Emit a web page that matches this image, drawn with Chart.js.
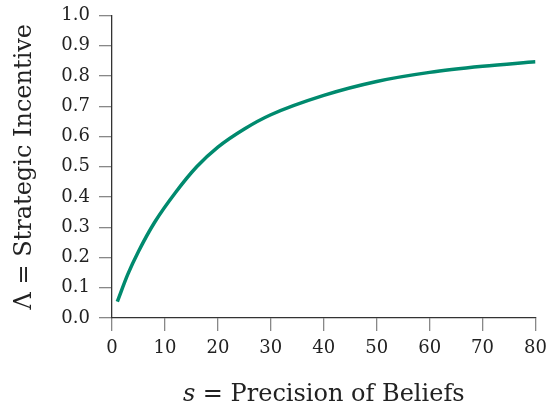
<!DOCTYPE html>
<html>
<head>
<meta charset="utf-8">
<script src="https://cdn.jsdelivr.net/npm/chart.js@4.4.0/dist/chart.umd.min.js"></script>
<style>
  html, body { margin: 0; padding: 0; background: #fff; }
  #wrap { width: 548px; height: 406px; }
</style>
</head>
<body>
<div id="wrap"><canvas id="myChart" width="548" height="406"></canvas></div>
<script>
// values
const precision = [1, 3, 5, 8, 12, 16, 20, 25, 30, 40, 50, 60, 70, 80];
const incentive = [0.054, 0.145, 0.22, 0.315, 0.415, 0.50, 0.565, 0.625, 0.672, 0.736, 0.782, 0.812, 0.832, 0.847];
const xTicks = [0, 10, 20, 30, 40, 50, 60, 70, 80];
const yTicks = [0, 0.1, 0.2, 0.3, 0.4, 0.5, 0.6, 0.7, 0.8, 0.9, 1.0];

const serif = "'DejaVu Serif', serif";

// ---------------- axis titles with italic symbol ----------------
const axisTitles = {
    id: 'axisTitles',
    afterDraw(chart) {
        const ctx = chart.ctx;
        const area = chart.chartArea;
        ctx.save();
        ctx.fillStyle = '#222';
        ctx.textBaseline = 'alphabetic';

        // x title
        const partsX = [["italic 24px " + serif, "s"], ["24px " + serif, " = Precision of Beliefs"]];
        drawParts(ctx, partsX, (area.left + area.right) / 2, 401);

        // y title, rotated
        ctx.translate(31, (area.top + area.bottom) / 2);
        ctx.rotate(-Math.PI / 2);
        const partsY = [["24px " + serif, "\u039B = Strategic Incentive"]];
        drawParts(ctx, partsY, 0, 0);
        ctx.restore();
    }
};

function drawParts(ctx, parts, cx, y) {
    let total = 0;
    parts.forEach(p => { ctx.font = p[0]; total += ctx.measureText(p[1]).width; });
    let x = cx - total / 2;
    parts.forEach(p => {
        ctx.font = p[0];
        ctx.textAlign = 'left';
        ctx.fillText(p[1], x, y);
        x += ctx.measureText(p[1]).width;
    });
}

const ctx = document.getElementById('myChart');
new Chart(ctx, {
    type: 'line',
    data: {
        datasets: [{
            data: precision.map((s, i) => ({ x: s, y: incentive[i] })),
            borderColor: '#008a6e',
            borderWidth: 3.5,
            pointRadius: 0,
            cubicInterpolationMode: 'monotone',
            fill: false
        }]
    },
    options: {
        responsive: false,
        animation: false,
        layout: { padding: 0 },
        plugins: { legend: { display: false }, tooltip: { enabled: false } },
        scales: {
            x: {
                type: 'linear',
                min: 0,
                max: 80,
                afterBuildTicks: (scale) => { scale.ticks = xTicks.map(v => ({ value: v })); },
                afterFit: (scale) => { scale.height = 88; scale.paddingRight = 12.5; scale.paddingLeft = 0; },
                grid: { drawOnChartArea: false, drawTicks: true, tickLength: 13, color: '#888', lineWidth: 1.3 },
                border: { display: true, color: '#333', width: 1.3 },
                ticks: { color: '#222', font: { family: serif, size: 18 }, padding: 7, maxRotation: 0 }
            },
            y: {
                min: 0,
                max: 1,
                afterBuildTicks: (scale) => { scale.ticks = yTicks.map(v => ({ value: v })); },
                afterFit: (scale) => { scale.width = 112; scale.paddingTop = 15.5; scale.paddingBottom = 0; },
                grid: { drawOnChartArea: false, drawTicks: true, tickLength: 13, color: '#888', lineWidth: 1.3 },
                border: { display: true, color: '#333', width: 1.3 },
                ticks: { color: '#222', font: { family: serif, size: 18 }, padding: 9, callback: (v) => v.toFixed(1) }
            }
        }
    },
    plugins: [axisTitles]
});
</script>
</body>
</html>
